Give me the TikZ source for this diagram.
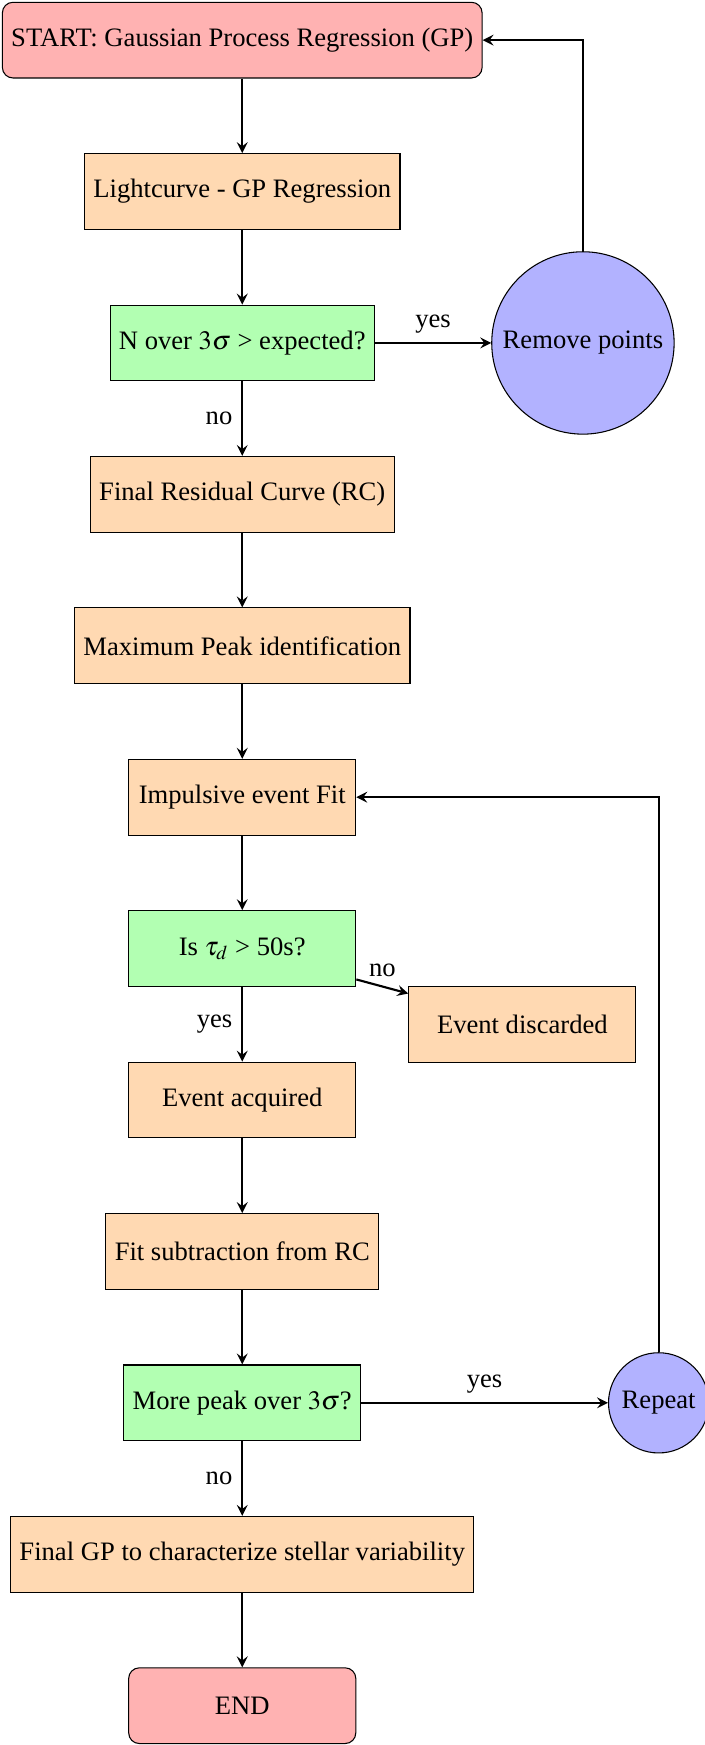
\documentclass[tikz,border=0pt]{standalone}
\usepackage{mathptmx}
\usepackage{fontspec}
\setmainfont{Liberation Serif}
\usepackage{tikz}
\usetikzlibrary{matrix,arrows}

\tikzset{
  startstop/.style={rectangle, rounded corners, minimum width=3cm, minimum height=1cm, text centered, draw=black, fill=red!30},
  process/.style={rectangle, minimum width=3cm, minimum height=1cm, text centered, draw=black, fill=orange!30},
  decision/.style={rectangle, minimum width=3cm, minimum height=1cm, text centered, draw=black, fill=green!30},
  loopnode/.style={circle, text centered, draw=black, fill=blue!30},
  flowarrow/.style={thick,->,>=stealth}
}

\begin{document}
\begin{tikzpicture}
  \matrix (m) [matrix of nodes, row sep=0.986cm]
  {
   |[startstop]| START: Gaussian Process Regression (GP) \\
   |[process]| Lightcurve - GP Regression \\
   |[decision]| N over $3\sigma$ > expected? \\
   |[process]| Final Residual Curve (RC) \\
   |[process]| Maximum Peak identification \\
   |[process]| Impulsive event Fit \\
   |[decision]| Is $\tau_d$ > 50s? \\
   |[process]| Event acquired \\
   |[process]| Fit subtraction from RC \\
   |[decision]| More peak over $3\sigma$? \\
   |[process]| Final GP to characterize stellar variability \\
   |[startstop]| END \\
  };
  \node[loopnode, xshift=4.5cm] (remove) at (m-3-1) {Remove points};
  \node[process, xshift=3.7cm, yshift=-1cm] (discard) at (m-7-1) {Event discarded};
  \node[loopnode, xshift=5.5cm] (repeat) at (m-10-1) {Repeat};
  \path[flowarrow]
  (m-1-1) edge (m-2-1)
  (m-2-1) edge (m-3-1)
  (m-3-1) edge node [above] {yes} (remove)
  (m-3-1) edge node [left] {no} (m-4-1)
  (m-4-1) edge (m-5-1)
  (m-5-1) edge (m-6-1)
  (m-6-1) edge (m-7-1)
  (m-7-1) edge node [above] {no} (discard)
  (m-7-1) edge node [left] {yes} (m-8-1)
  (m-8-1) edge (m-9-1)
  (m-9-1) edge (m-10-1)
  (m-10-1) edge node [above] {yes} (repeat)
  (m-10-1) edge node [left] {no} (m-11-1)
  (m-11-1) edge (m-12-1)
  ;
  \draw[flowarrow] (remove) |- (m-1-1);
  \draw[flowarrow] (repeat) |- (m-6-1);
  \pgfresetboundingbox
  \useasboundingbox (m-1-1.center) ++(-3.2,0.53) rectangle ++(9.3,-23.05);
\end{tikzpicture}
\end{document}
